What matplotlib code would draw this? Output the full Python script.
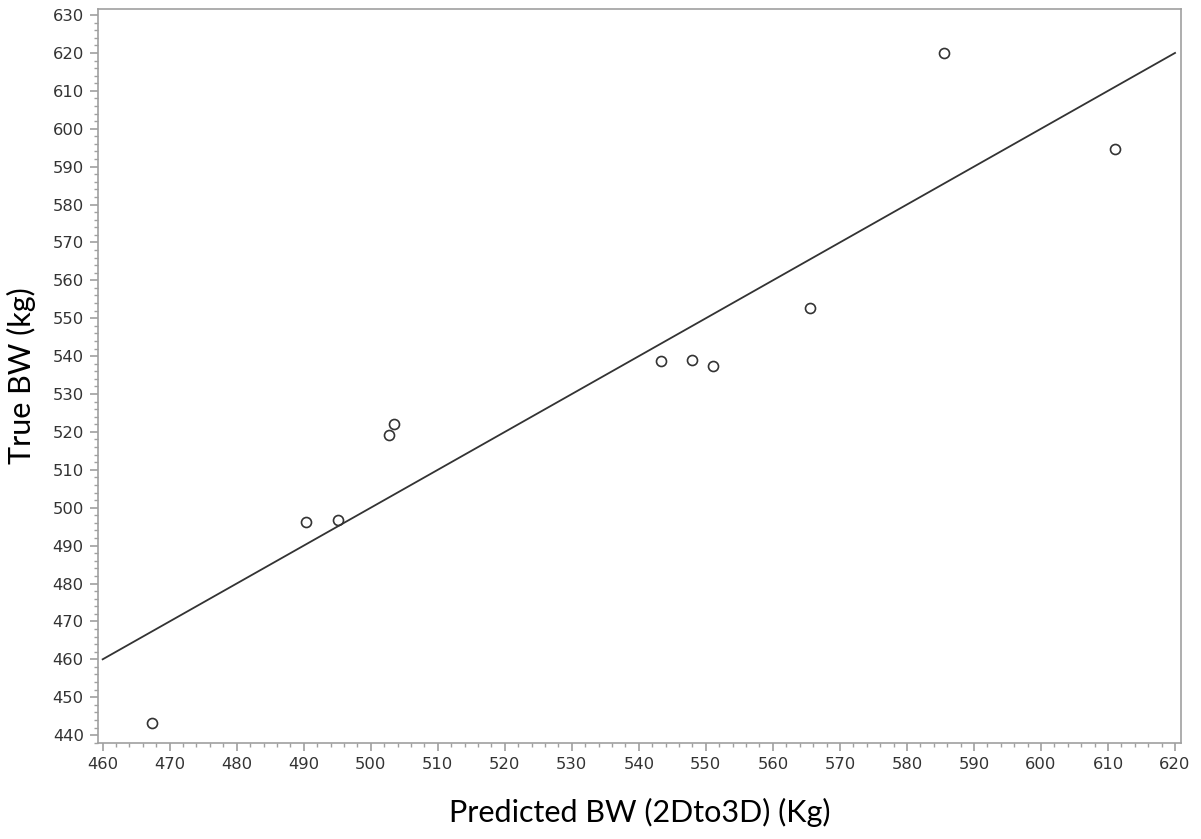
import matplotlib
matplotlib.use("Agg")
import matplotlib.pyplot as plt
from matplotlib.ticker import MultipleLocator

# predicted vs true body weight
predicted_bw = [467.4, 490.4, 495.1, 502.7, 503.5, 543.3, 548.0, 551.1, 565.6, 585.5, 611.1]
true_bw = [443.1, 496.1, 496.7, 519.2, 522.2, 538.7, 539.1, 537.4, 552.8, 620.1, 594.6]

# identity reference line
line_x = [460, 620]
line_y = [460, 620]

x_ticks = list(range(460, 621, 10))
y_ticks = list(range(440, 631, 10))

axis_gray = "#a0a0a0"
ink = "#333333"

plt.rcParams["font.family"] = "DejaVu Sans"

fig = plt.figure(figsize=(12.01, 8.39), dpi=100)
ax = fig.add_axes([0.0813, 0.1148, 0.9021, 0.8745])

ax.plot(line_x, line_y, color=ink, linewidth=1.3)
ax.plot(predicted_bw, true_bw, linestyle="none", marker="o", markersize=7.2,
        markerfacecolor="none", markeredgecolor=ink, markeredgewidth=1.2)

ax.set_xlim(459.25, 620.9)
ax.set_ylim(438.0, 631.6)
ax.set_xticks(x_ticks)
ax.set_yticks(y_ticks)
ax.xaxis.set_minor_locator(MultipleLocator(2))
ax.yaxis.set_minor_locator(MultipleLocator(2))

for side in ax.spines.values():
    side.set_color(axis_gray)
    side.set_linewidth(1.2)

ax.tick_params(which="major", length=6, width=1.2, color=axis_gray,
               labelsize=11.8, labelcolor=ink, pad=4)
ax.tick_params(which="minor", length=3, width=1.0, color=axis_gray)

ax.set_xlabel("Predicted BW (2Dto3D) (Kg)", fontsize=22, family="Lato",
              color="black")
ax.set_ylabel("True BW (kg)", fontsize=22, family="Lato", color="black")
ax.xaxis.set_label_coords(0.5, -0.075)
ax.yaxis.set_label_coords(-0.057, 0.5)

fig.savefig("out.png", dpi=100)
